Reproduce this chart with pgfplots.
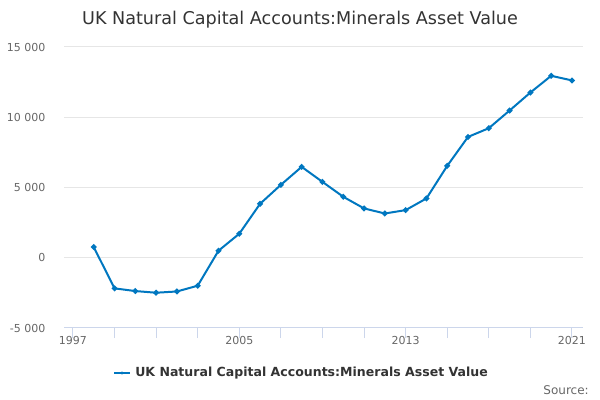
\documentclass[border=0pt]{standalone}
\usepackage{pgfplots}
\pgfplotsset{compat=1.18}
\usepackage{fontspec}
\setmainfont{DejaVu Sans}
\definecolor{lineblue}{HTML}{0077C0}
\definecolor{gridgray}{HTML}{E6E6E6}
\definecolor{axisblue}{HTML}{CCD6EB}
\definecolor{labelgray}{HTML}{666666}
\definecolor{titlegray}{HTML}{333333}
\begin{document}
\begin{tikzpicture}
\useasboundingbox (0pt,0pt) rectangle (450pt,300pt);
\begin{axis}[
  at={(48pt,54pt)}, anchor=south west,
  scale only axis, width=389.25pt, height=210.75pt,
  xmin=1996.57, xmax=2021.53,
  ymin=-5000, ymax=15000,
  scaled y ticks=false,
  axis line style={draw=none},
  axis x line*=bottom,
  x axis line style={draw=axisblue, line width=0.75pt},
  xtick={1997,1999,...,2021},
  xticklabels={1997,,,,2005,,,,2013,,,,2021},
  tick align=outside,
  major tick length=7.5pt,
  xtick style={draw=axisblue, line width=0.75pt},
  ytick={-5000,0,5000,10000,15000},
  yticklabels={-5 000,0,5 000,10 000,15 000},
  ytick style={draw=none},
  ymajorgrids=true,
  grid style={draw=gridgray, line width=0.75pt},
  ticklabel style={font=\fontsize{8.25}{10}\selectfont, text=labelgray},
  yticklabel style={xshift=-3pt},
  xticklabel style={yshift=5pt},
  clip=false,
]
\addplot[color=lineblue, line width=1.5pt, mark=*, mark size=1.3pt, mark options={fill=lineblue, draw=lineblue}] coordinates {
(1998,760) (1999,-2180) (2000,-2370) (2001,-2490) (2002,-2400) (2003,-1990)
(2004,500) (2005,1710) (2006,3840) (2007,5190) (2008,6470) (2009,5400)
(2010,4340) (2011,3510) (2012,3150) (2013,3390) (2014,4220) (2015,6540)
(2016,8600) (2017,9220) (2018,10480) (2019,11760) (2020,12950) (2021,12620)
};
\end{axis}
\node[font=\fontsize{13.2}{16}\selectfont, text=titlegray] at (225pt,285pt) {UK Natural Capital Accounts:Minerals Asset Value};
\draw[lineblue, line width=1.5pt] (85.5pt,20.25pt) -- (97.5pt,20.25pt);
\fill[lineblue] (91.5pt,20.25pt) circle (1.3pt);
\node[anchor=west, font=\fontsize{9.4}{12}\bfseries, text=titlegray, inner sep=0pt] at (101.25pt,20.25pt) {UK Natural Capital Accounts:Minerals Asset Value};
\node[anchor=east, font=\fontsize{9}{11}\selectfont, text=labelgray, inner sep=0pt] at (441.75pt,7.5pt) {Source:};
\end{tikzpicture}
\end{document}
